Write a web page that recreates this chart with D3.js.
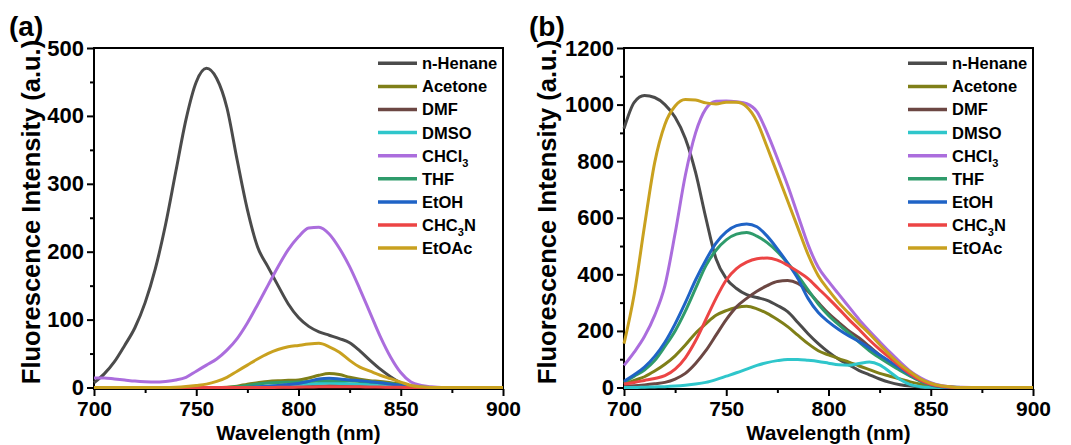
<!DOCTYPE html>
<meta charset="utf-8">
<style>

body {
  margin: 0;
  background: #fff;
}

text {
  font-family: "Liberation Sans", Arial, sans-serif;
  font-weight: bold;
  fill: #000;
}

.frame {
  fill: none;
  stroke: #000;
  stroke-width: 2px;
}

.axis line {
  stroke: #000;
  stroke-width: 2px;
}

.axis .domain {
  display: none;
}

.curve {
  fill: none;
  stroke-width: 3px;
  stroke-linejoin: round;
}

</style>
<body>
<script src="https://cdn.jsdelivr.net/npm/d3@7/dist/d3.min.js"></script>
<script>

var width = 1071,
    height = 445;

var wavelength = [700,705,710,715,720,725,730,735,740,745,750,755,760,765,770,775,780,785,790,795,800,805,810,815,820,825,830,835,840,845,850,855,860,865,870,885,900];

var solvents = ["n-Henane", "Acetone", "DMF", "DMSO", "CHCl3", "THF", "EtOH", "CHC3N", "EtOAc"];
var colors = ["#4b4b4b", "#7f7f18", "#6c4743", "#2fc6cb", "#ab6ddd", "#2f9b6b", "#1f63c6", "#ec4444", "#c9a11f"];

var xTicks = [700, 750, 800, 850, 900],
    xMinor = [725, 775, 825, 875];

// panel (a)
var aHenane = [7,20,38,62,88,125,175,240,318,395,450,470,455,412,335,262,207,178,150,123,103,90,82,77,72,66,54,40,27,16,7,2,0,0,0,0,0];
var aAcetone = [0,0,0,0,0,0,0,0,0,0,0,0,0,0.5,2,5,7,9,10,10.5,11,14,18,20.5,19,15,12,10,9,7,5,2,0.5,0,0,0,0];
var aDMF = [0,0,0,0,0,0,0,0,0,0,0,0,0,0,0,0,0,0.3,0.5,0.8,1,1.5,2,2.5,2.5,2.2,2,1.6,1.2,0.8,0.5,0.2,0,0,0,0,0];
var aDMSO = [0,0,0,0,0,0,0,0,0,0,0,0,0,0,0,0.5,1,2,3,3.5,4,5,6,6.5,6,5.5,5,4.5,4,3,2,1,0.3,0,0,0,0];
var aCHCl3 = [14,14,12.5,11,9.5,8.5,8,9,11,15,24,33,42,55,72,95,122,150,178,203,222,235,236,226,205,178,145,110,75,45,22,8,3,1,0,0,0];
var aTHF = [0,0,0,0,0,0,0,0,0,0,0,0,0,0,1,3,5,6.5,7.5,7.8,8,9,9.8,10,10,9.8,9,8,7,5.5,3.5,1.5,0.5,0,0,0,0];
var aEtOH = [0,0,0,0,0,0,0,0,0,0,0,0,0,0,0,0,1,2,3,4.5,6,9,12.5,13.5,12.5,11,10,8.5,7,5,3,1.5,0.5,0,0,0,0];
var aCHC3N = [0,0,0,0,0,0,0,0,0,0,0,0,0,0,0,0,0,0,0.3,0.5,0.6,0.8,1,1.2,1.2,1.1,1,0.8,0.6,0.4,0.2,0,0,0,0,0,0];
var aEtOAc = [0,0,0,0,0,0,0,0,0.5,1.5,3,5,9,15,24,33,42,50,56,60,62,64,65,60,52,40,30,24,18,13,8,3,1,0,0,0,0];
var aTicks = [0, 100, 200, 300, 400, 500],
    aMinor = [50, 150, 250, 350, 450];

// panel (b)
var bHenane = [915,1008,1032,1025,1000,955,880,760,600,455,385,350,328,318,308,290,268,230,190,155,125,100,80,60,45,30,18,10,5,2,0.5,0,0,0,0,0,0];
var bAcetone = [12,25,38,58,82,112,150,192,225,255,272,283,287,278,262,240,215,185,155,130,115,102,90,76,63,50,40,30,20,12,5,1.5,0,0,0,0,0];
var bDMF = [5,6,9,13,18,30,50,85,130,185,240,285,315,340,360,375,378,368,340,300,262,230,200,175,145,115,88,65,42,24,12,4,1,0,0,0,0];
var bDMSO = [0,0,1,2,3,5,8,12,18,28,40,52,65,78,88,95,99,99,96,92,86,80,79,85,90,80,55,28,10,3,0.5,0,0,0,0,0,0];
var bCHCl3 = [78,125,180,255,360,545,750,900,985,1012,1013,1010,1003,975,900,810,715,610,505,425,375,330,285,240,200,162,125,90,58,34,17,7,2,0.5,0,0,0];
var bTHF = [18,40,62,95,145,200,270,350,430,485,522,542,548,535,512,480,440,395,345,295,255,222,192,160,130,105,82,60,40,22,9,3,0.5,0,0,0,0];
var bEtOH = [22,45,72,110,160,225,300,380,450,510,550,572,578,568,535,490,440,385,315,265,232,205,182,162,140,115,92,68,45,25,10,3,0.5,0,0,0,0];
var bCHC3N = [12,18,25,32,42,65,105,165,240,315,380,420,443,455,458,450,432,410,385,350,315,278,240,205,168,135,105,75,48,26,11,4,1,0,0,0,0];
var bEtOAc = [155,330,570,795,930,995,1018,1016,1006,1002,1008,1008,992,940,850,755,660,565,470,395,345,300,262,225,190,152,115,82,55,30,15,6,2,0,0,0,0];
var bTicks = [0, 200, 400, 600, 800, 1000, 1200],
    bMinor = [100, 300, 500, 700, 900, 1100];

var svg = d3.select("body").append("svg")
    .attr("width", width)
    .attr("height", height);

drawPanel({
  left: 94, label: "(a)", labelX: 9, titleX: 40,
  yMax: 500, yTicks: aTicks, yMinor: aMinor,
  series: [aHenane, aAcetone, aDMF, aDMSO, aCHCl3, aTHF, aEtOH, aCHC3N, aEtOAc]
});

drawPanel({
  left: 624, label: "(b)", labelX: 529, titleX: 556,
  yMax: 1200, yTicks: bTicks, yMinor: bMinor,
  series: [bHenane, bAcetone, bDMF, bDMSO, bCHCl3, bTHF, bEtOH, bCHC3N, bEtOAc]
});

function drawPanel(p) {
  var top = 48, bottom = 389, right = p.left + 409;

  var x = d3.scaleLinear().domain([700, 900]).range([p.left, right]);
  var y = d3.scaleLinear().domain([0, p.yMax]).range([bottom - 1.5, top]);

  var g = svg.append("g");

  // axes: major ticks with labels, minor ticks without
  g.append("g")
      .attr("class", "axis")
      .attr("transform", "translate(0," + bottom + ")")
      .call(d3.axisBottom(x).tickValues(xTicks).tickSize(7).tickPadding(5))
      .selectAll("text").attr("font-size", 21);

  g.append("g")
      .attr("class", "axis")
      .attr("transform", "translate(0," + bottom + ")")
      .call(d3.axisBottom(x).tickValues(xMinor).tickSize(4))
      .selectAll("text").remove();

  g.append("g")
      .attr("class", "axis")
      .attr("transform", "translate(" + p.left + ",0)")
      .call(d3.axisLeft(y).tickValues(p.yTicks).tickFormat(d3.format("d")).tickSize(7).tickPadding(3))
      .selectAll("text").attr("font-size", 22);

  g.append("g")
      .attr("class", "axis")
      .attr("transform", "translate(" + p.left + ",0)")
      .call(d3.axisLeft(y).tickValues(p.yMinor).tickSize(4))
      .selectAll("text").remove();

  g.append("rect")
      .attr("class", "frame")
      .attr("x", p.left)
      .attr("y", top)
      .attr("width", right - p.left)
      .attr("height", bottom - top);

  var line = d3.line()
      .x(function(d, i) { return x(wavelength[i]); })
      .y(function(d) { return y(d); })
      .curve(d3.curveMonotoneX);

  g.selectAll(".curve")
      .data(p.series)
    .enter().append("path")
      .attr("class", "curve")
      .attr("stroke", function(d, i) { return colors[i]; })
      .attr("d", line);

  // legend
  var legend = g.selectAll(".legend")
      .data(solvents)
    .enter().append("g")
      .attr("class", "legend")
      .attr("transform", function(d, i) { return "translate(" + (p.left + 284) + "," + (63.3 + i * 23.1) + ")"; });

  legend.append("line")
      .attr("x1", 0)
      .attr("x2", 39)
      .attr("stroke", function(d, i) { return colors[i]; })
      .attr("stroke-width", 3.5);

  var lt = legend.append("text")
      .attr("x", 44)
      .attr("dy", "0.36em")
      .attr("font-size", 16.5);

  // digits become subscripts (CHCl3, CHC3N)
  lt.each(function(d) {
    var t = d3.select(this), lowered = false;
    d.split(/(\d)/).forEach(function(part) {
      if (!part) return;
      if (/\d/.test(part)) {
        t.append("tspan").attr("font-size", 11).attr("dy", 5).text(part);
        lowered = true;
      } else {
        t.append("tspan").attr("dy", lowered ? -5 : null).text(part);
        lowered = false;
      }
    });
  });

  // titles
  g.append("text")
      .attr("x", (p.left + right) / 2)
      .attr("y", 440)
      .attr("text-anchor", "middle")
      .attr("font-size", 20.5)
      .text("Wavelength (nm)");

  g.append("text")
      .attr("transform", "translate(" + p.titleX + ",212)rotate(-90)")
      .attr("text-anchor", "middle")
      .attr("font-size", 25.5)
      .text("Fluorescence Intensity (a.u.)");

  g.append("text")
      .attr("x", p.labelX)
      .attr("y", 36)
      .attr("font-size", 28)
      .text(p.label);
}

</script>
